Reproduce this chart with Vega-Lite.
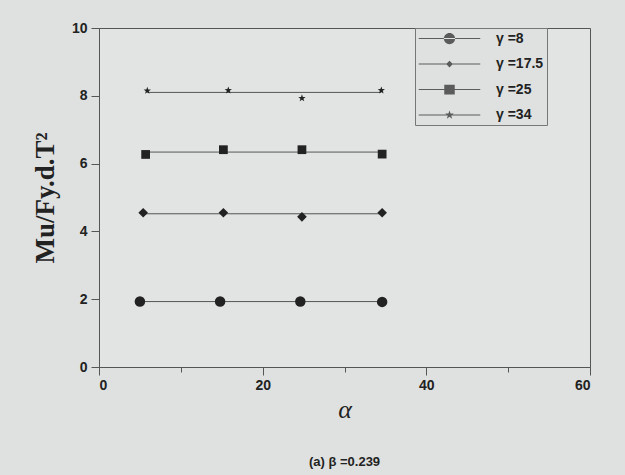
{
  "$schema": "https://vega.github.io/schema/vega-lite/v6.json",
  "autosize": {"type": "none"},
  "padding": {"left": 99, "top": 28, "right": 35, "bottom": 108},
  "width": 491,
  "height": 339,
  "background": "#dfe1e0",
  "title": {
    "text": "(a) β =0.239",
    "orient": "bottom",
    "offset": 34,
    "font": "Liberation Sans",
    "fontSize": 13,
    "fontWeight": "bold",
    "color": "#222"
  },
  "config": {
    "view": {"stroke": "#555", "strokeWidth": 1, "fill": "#e2e4e3"},
    "axis": {
      "grid": false,
      "domainColor": "#555",
      "tickColor": "#555",
      "labelFont": "Liberation Sans",
      "labelFontWeight": "bold",
      "labelFontSize": 14,
      "labelColor": "#222",
      "titleColor": "#222"
    }
  },
  "datasets": {
    "pts": [
      {"g": "γ =8", "x": 5, "y": 1.93},
      {"g": "γ =8", "x": 14.8, "y": 1.93},
      {"g": "γ =8", "x": 24.6, "y": 1.93},
      {"g": "γ =8", "x": 34.6, "y": 1.92},
      {"g": "γ =17.5", "x": 5.4, "y": 4.55},
      {"g": "γ =17.5", "x": 15.2, "y": 4.55},
      {"g": "γ =17.5", "x": 24.8, "y": 4.43},
      {"g": "γ =17.5", "x": 34.6, "y": 4.55},
      {"g": "γ =25", "x": 5.7, "y": 6.27},
      {"g": "γ =25", "x": 15.2, "y": 6.41},
      {"g": "γ =25", "x": 24.8, "y": 6.41},
      {"g": "γ =25", "x": 34.6, "y": 6.28},
      {"g": "γ =34", "x": 5.9, "y": 8.15},
      {"g": "γ =34", "x": 15.8, "y": 8.16},
      {"g": "γ =34", "x": 24.8, "y": 7.93},
      {"g": "γ =34", "x": 34.5, "y": 8.16}
    ],
    "fit": [
      {"g": "γ =8", "x": 5, "y": 1.93},
      {"g": "γ =8", "x": 34.6, "y": 1.93},
      {"g": "γ =17.5", "x": 5.4, "y": 4.52},
      {"g": "γ =17.5", "x": 34.6, "y": 4.52},
      {"g": "γ =25", "x": 5.7, "y": 6.34},
      {"g": "γ =25", "x": 34.6, "y": 6.34},
      {"g": "γ =34", "x": 5.9, "y": 8.1},
      {"g": "γ =34", "x": 34.5, "y": 8.1}
    ]
  },
  "layer": [
    {
      "data": {"name": "fit"},
      "mark": {"type": "line", "color": "#555", "strokeWidth": 1},
      "encoding": {
        "x": {
          "field": "x", "type": "quantitative",
          "scale": {"domain": [0, 60], "nice": false, "zero": false},
          "axis": {
            "values": [0, 10, 20, 30, 40, 50, 60],
            "labelExpr": "datum.value % 20 == 0 ? datum.label : ''",
            "tickSize": {"condition": {"test": "datum.value % 20 == 0", "value": 8}, "value": 5},
            "labelPadding": 3,
            "title": "α",
            "titleFont": "Liberation Serif",
            "titleFontStyle": "italic",
            "titleFontWeight": "normal",
            "titleFontSize": 26,
            "titlePadding": 4
          }
        },
        "y": {
          "field": "y", "type": "quantitative",
          "scale": {"domain": [0, 10], "nice": false, "zero": false},
          "axis": {
            "values": [0, 1, 2, 3, 4, 5, 6, 7, 8, 9, 10],
            "labelExpr": "datum.value % 2 == 0 ? datum.label : ''",
            "tickSize": {"condition": {"test": "datum.value % 2 == 0", "value": 8}, "value": 5},
            "labelPadding": 4,
            "title": "Mu/Fy.d.T²",
            "titleFont": "Liberation Serif",
            "titleFontWeight": "bold",
            "titleFontSize": 27,
            "titlePadding": 12
          }
        },
        "detail": {"field": "g"}
      }
    },
    {
      "data": {"name": "pts"},
      "mark": {"type": "point", "filled": true, "color": "#222", "opacity": 1},
      "encoding": {
        "x": {"field": "x", "type": "quantitative"},
        "y": {"field": "y", "type": "quantitative"},
        "shape": {
          "field": "g", "type": "nominal", "legend": null,
          "scale": {
            "domain": ["γ =8", "γ =17.5", "γ =25", "γ =34"],
            "range": [
              "circle",
              "diamond",
              "square",
              "M0,-1L0.235,-0.324L0.951,-0.309L0.380,0.124L0.588,0.809L0,0.4L-0.588,0.809L-0.380,0.124L-0.951,-0.309L-0.235,-0.324Z"
            ]
          }
        },
        "size": {
          "field": "g", "type": "nominal", "legend": null,
          "scale": {"domain": ["γ =8", "γ =17.5", "γ =25", "γ =34"], "range": [110, 60, 100, 110]}
        }
      }
    },
    {
      "data": {"name": "pts"},
      "transform": [{"filter": "false"}],
      "mark": {"type": "point", "filled": true, "color": "#222", "size": 225},
      "encoding": {
        "x": {"field": "x", "type": "quantitative"},
        "y": {"field": "y", "type": "quantitative"},
        "shape": {
          "field": "g", "type": "nominal",
          "scale": {
            "domain": ["γ =8", "γ =17.5", "γ =25", "γ =34"],
            "range": [
              "M-0.9,-0.07H7.3V0.07H-0.9ZM2.45,0A0.75,0.75 0 1,0 3.95,0A0.75,0.75 0 1,0 2.45,0Z",
              "M-0.9,-0.07H7.3V0.07H-0.9ZM3.2,-0.45L3.65,0L3.2,0.45L2.75,0Z",
              "M-0.9,-0.07H7.3V0.07H-0.9ZM2.5,-0.65H3.9V0.65H2.5Z",
              "M-0.9,-0.07H7.3V0.07H-0.9ZM3.2,-0.6L3.341,-0.194L3.771,-0.185L3.428,0.074L3.553,0.485L3.2,0.24L2.847,0.485L2.972,0.074L2.629,-0.185L3.059,-0.194Z"
            ]
          },
          "legend": {
            "title": null,
            "orient": "none",
            "legendX": 316,
            "legendY": 0,
            "symbolSize": 225,
            "symbolFillColor": "#222",
            "symbolStrokeColor": "#222",
            "symbolStrokeWidth": 0,
            "strokeColor": "#777",
            "fillColor": "#dfe1e0",
            "padding": 3,
            "rowPadding": 10.5,
            "labelFont": "Liberation Sans",
            "labelFontWeight": "bold",
            "labelFontSize": 14,
            "labelColor": "#222",
            "labelOffset": 63,
            "encode": {
              "symbols": {
                "update": {
                  "fill": {"value": "#222"},
                  "opacity": {"value": 1}
                }
              }
            }
          }
        }
      }
    }
  ],
  "resolve": {"scale": {"shape": "independent"}, "legend": {"shape": "independent"}}
}
